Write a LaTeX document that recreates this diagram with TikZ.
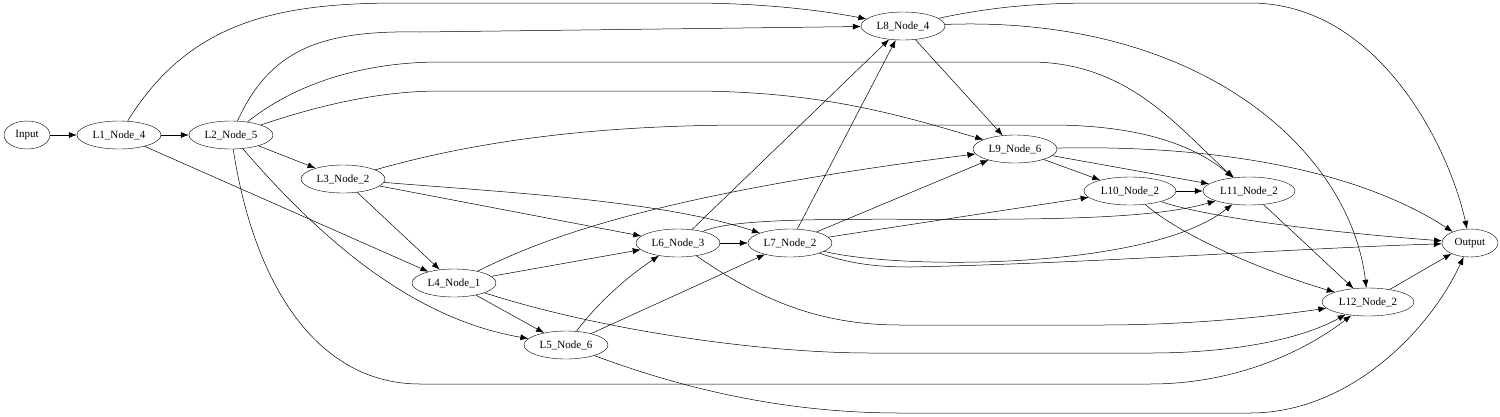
\documentclass[tikz,border=0pt]{standalone}
\usepackage{fontspec}
\setmainfont{Liberation Serif}
\usepackage{tikz}
\usetikzlibrary{shapes.geometric,arrows.meta}
\tikzset{
	nd/.style={draw,ellipse,minimum width=84pt,minimum height=28pt,inner sep=1pt,font=\fontsize{11}{13}\selectfont},
	wnd/.style={nd,minimum width=92pt},
	arr/.style={-{Latex[length=8pt,width=6pt]},line width=0.5pt}
}
\begin{document}
\begin{tikzpicture}[x=1pt,y=-1pt]
		\useasboundingbox (0,0) rectangle (1500,416);
		\node[nd,minimum width=46pt] (in) at (27,135) {Input};
		\node[nd] (l1) at (119,135) {L1\_Node\_4};
		\node[nd] (l2) at (231,135) {L2\_Node\_5};
		\node[nd] (l3) at (343,179) {L3\_Node\_2};
		\node[nd] (l4) at (454,283) {L4\_Node\_1};
		\node[nd] (l5) at (566,345) {L5\_Node\_6};
		\node[nd] (l6) at (678,243) {L6\_Node\_3};
		\node[nd] (l7) at (790,243) {L7\_Node\_2};
		\node[nd] (l8) at (903,26) {L8\_Node\_4};
		\node[nd] (l9) at (1015,149) {L9\_Node\_6};
		\node[wnd] (l10) at (1130,191) {L10\_Node\_2};
		\node[wnd] (l11) at (1249,191) {L11\_Node\_2};
		\node[wnd] (l12) at (1368,302) {L12\_Node\_2};
		\node[nd,minimum width=56pt] (out) at (1470,243) {Output};
		\path[arr]
			(in) edge (l1)
			(l1) edge (l2)
			edge (l4)
			(l2) edge (l3)
			(l3) edge (l6)
			edge (l4)
			(l4) edge (l6)
			edge (l5)
			(l5) edge (l7)
			(l6) edge (l7)
			edge (l8)
			(l7) edge (l8)
			edge (l9)
			edge (l10)
			(l8) edge (l9)
			(l9) edge (l10)
			edge (l11)
			(l10) edge (l11)
			(l11) edge (l12)
			(l12) edge (out);
		\draw[arr] (l3) .. controls (500,192) and (660,200) .. (l7);
		\draw[arr] (l1) .. controls (190,20) and (280,3) .. (400,3) -- (690,3) .. controls (760,3) and (820,10) .. (l8);
		\draw[arr] (l2) .. controls (270,50) and (320,30) .. (420,32) -- (l8);
		\draw[arr] (l2) .. controls (300,80) and (370,62) .. (440,62) -- (1030,62) .. controls (1130,62) and (1180,130) .. (l11);
		\draw[arr] (l2) .. controls (320,105) and (380,91) .. (440,91) -- (690,91) .. controls (820,91) and (900,115) .. (l9);
		\draw[arr] (l2) .. controls (330,250) and (420,320) .. (l5);
		\draw[arr] (l2) .. controls (255,290) and (320,384) .. (420,384) -- (1150,384) .. controls (1250,384) and (1320,340) .. (l12);
		\draw[arr] (l3) .. controls (480,140) and (600,125) .. (750,125) -- (1050,125) .. controls (1150,125) and (1200,150) .. (l11);
		\draw[arr] (l4) .. controls (540,240) and (650,195) .. (l9);
		\draw[arr] (l4) .. controls (600,330) and (760,353) .. (870,353) -- (1150,353) .. controls (1230,353) and (1300,340) .. (l12);
		\draw[arr] (l5) .. controls (600,300) and (630,275) .. (l6);
		\draw[arr] (l5) .. controls (700,395) and (800,413) .. (900,413) -- (1250,413) .. controls (1350,413) and (1430,330) .. (out);
		\draw[arr] (l6) .. controls (760,205) and (1100,235) .. (l11);
		\draw[arr] (l6) .. controls (760,300) and (820,325) .. (900,325) -- (1100,325) .. controls (1200,325) and (1280,315) .. (l12);
		\draw[arr] (l7) .. controls (900,270) and (1150,270) .. (l11);
		\draw[arr] (l7) .. controls (845,262) and (870,267) .. (910,267) .. controls (1100,263) and (1300,248) .. (out);
		\draw[arr] (l8) .. controls (1200,15) and (1350,150) .. (l12);
		\draw[arr] (l8) .. controls (1000,5) and (1050,3) .. (1100,3) -- (1250,3) .. controls (1380,3) and (1450,150) .. (out);
		\draw[arr] (l9) .. controls (1200,145) and (1350,165) .. (out);
		\draw[arr] (l10) .. controls (1200,215) and (1300,230) .. (out);
		\draw[arr] (l10) .. controls (1180,235) and (1260,270) .. (l12);
\end{tikzpicture}
\end{document}
